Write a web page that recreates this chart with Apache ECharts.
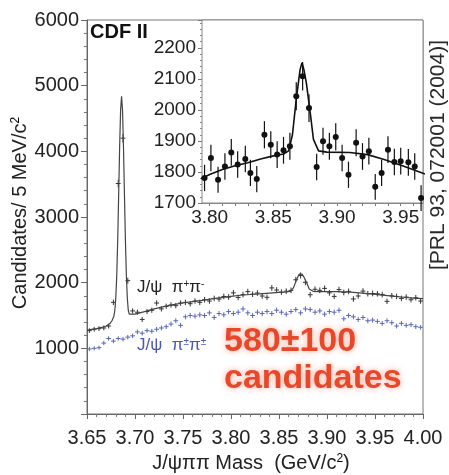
<!DOCTYPE html>
<html>
<head>
<meta charset="utf-8">
<script src="https://cdn.jsdelivr.net/npm/echarts@6/dist/echarts.min.js"></script>
<style>
  html, body { margin: 0; padding: 0; background: #fff; }
  #chart { width: 449px; height: 475px; }
</style>
</head>
<body>
<div id="chart"></div>
<script>
  // bin centres, 5 MeV bins (GeV/c^2)
  const binMass = [
    3.6525, 3.6575, 3.6625, 3.6675, 3.6725, 3.6775, 3.6825, 3.6875, 3.6925, 3.6975,
    3.7025, 3.7075, 3.7125, 3.7175, 3.7225, 3.7275, 3.7325, 3.7375, 3.7425, 3.7475,
    3.7525, 3.7575, 3.7625, 3.7675, 3.7725, 3.7775, 3.7825, 3.7875, 3.7925, 3.7975,
    3.8025, 3.8075, 3.8125, 3.8175, 3.8225, 3.8275, 3.8325, 3.8375, 3.8425, 3.8475,
    3.8525, 3.8575, 3.8625, 3.8675, 3.8725, 3.8775, 3.8825, 3.8875, 3.8925, 3.8975,
    3.9025, 3.9075, 3.9125, 3.9175, 3.9225, 3.9275, 3.9325, 3.9375, 3.9425, 3.9475,
    3.9525, 3.9575, 3.9625, 3.9675, 3.9725, 3.9775, 3.9825, 3.9875, 3.9925, 3.9975
  ];
  // J/psi pi+ pi- candidates
  const oppositeSign = [
    1270, 1290, 1300, 1310, 1340, 1700, 3510, 4200, 2030, 1570,
    1550, 1440, 1560, 1580, 1690, 1600, 1640, 1660, 1650, 1690,
    1700, 1680, 1720, 1700, 1740, 1720, 1760, 1750, 1790, 1781,
    1845, 1775, 1818, 1863, 1824, 1842, 1797, 1777, 1920, 1888,
    1856, 1870, 1883, 2044, 2109, 2006, 1816, 1899, 1883, 1913,
    1845, 1791, 1894, 1850, 1867, 1752, 1797, 1872, 1832, 1835,
    1831, 1818, 1716, 1800, 1790, 1760, 1780, 1740, 1770, 1720
  ];
  // J/psi pi+- pi+- candidates
  const sameSign = [
    990, 1000, 1010, 1080, 1150, 1110, 1150, 1140, 1170, 1190,
    1250, 1230, 1270, 1260, 1290, 1310, 1330, 1370, 1420, 1350,
    1480, 1500, 1490, 1510, 1500, 1540, 1470, 1530, 1510, 1560,
    1530, 1550, 1600, 1540, 1500, 1550, 1530, 1560, 1530, 1580,
    1550, 1520, 1560, 1590, 1540, 1600, 1590, 1550, 1570, 1520,
    1560, 1550, 1580, 1450, 1500, 1480, 1440, 1470, 1420, 1430,
    1410, 1380, 1420, 1390, 1340, 1380, 1350, 1360, 1330, 1320
  ];
  // fit curve
  const fitMass = [
    3.650, 3.655, 3.660, 3.665, 3.670, 3.674, 3.676, 3.677, 3.678, 3.679,
    3.680, 3.681, 3.682, 3.683, 3.684, 3.685, 3.686, 3.687, 3.688, 3.689,
    3.690, 3.691, 3.692, 3.693, 3.694, 3.696, 3.700, 3.710, 3.720, 3.730,
    3.740, 3.750, 3.760, 3.770, 3.780, 3.790, 3.800, 3.810, 3.820, 3.830,
    3.840, 3.850, 3.858, 3.862, 3.865, 3.868, 3.871, 3.8725, 3.874, 3.876,
    3.879, 3.8815, 3.8855, 3.892, 3.910, 3.924, 3.937, 3.953, 3.968, 3.980,
    3.990, 4.000
  ];
  const fitCounts = [
    1275, 1288, 1300, 1318, 1340, 1380, 1420, 1450, 1490, 1580,
    1765, 2114, 2655, 3349, 4071, 4628, 4840, 4628, 4071, 3349,
    2655, 2114, 1765, 1580, 1520, 1505, 1520, 1560, 1600, 1635,
    1665, 1690, 1712, 1730, 1752, 1772, 1792, 1808, 1820, 1830,
    1842, 1852, 1858, 1868, 1920, 2035, 2130, 2152, 2130, 2085,
    1990, 1905, 1868, 1864, 1863, 1856, 1840, 1818, 1795, 1778,
    1766, 1756
  ];
  // inset points
  const insetMass = [
    3.796, 3.801, 3.8066, 3.812, 3.817, 3.822, 3.828, 3.832, 3.837, 3.843,
    3.848, 3.853, 3.858, 3.863, 3.868, 3.873, 3.878, 3.884, 3.889, 3.894,
    3.899, 3.904, 3.909, 3.915, 3.920, 3.925, 3.930, 3.935, 3.940, 3.945,
    3.950, 3.956, 3.961, 3.966
  ];
  const insetCounts = [
    1781, 1845, 1775, 1818, 1863, 1824, 1842, 1797, 1777, 1920,
    1888, 1856, 1870, 1883, 2044, 2109, 2006, 1816, 1899, 1883,
    1913, 1845, 1791, 1894, 1850, 1867, 1752, 1797, 1872, 1832,
    1835, 1831, 1818, 1716
  ];
  const insetXTicks = [3.80, 3.85, 3.90, 3.95];
  const insetXMinor = [3.80, 3.81, 3.82, 3.83, 3.84, 3.85, 3.86, 3.87, 3.88, 3.89, 3.90, 3.91, 3.92, 3.93, 3.94, 3.95, 3.96];

  const FONT = '"Liberation Sans", Arial, sans-serif';
  const chart = echarts.init(document.getElementById('chart'));

  const pairs = (xs, ys) => xs.map((x, i) => [x, ys[i]]);

  // crosses: horizontal = bin width, vertical = stat. error
  function crosses(color) {
    return function (params, api) {
      const x = api.value(0), y = api.value(1);
      const e = Math.sqrt(y);
      const l = api.coord([x - 0.0025, y]), r = api.coord([x + 0.0025, y]);
      const t = api.coord([x, y + e]), b = api.coord([x, y - e]);
      return {
        type: 'group',
        children: [
          { type: 'line', shape: { x1: l[0], y1: l[1], x2: r[0], y2: r[1] }, style: { stroke: color, lineWidth: 1 } },
          { type: 'line', shape: { x1: t[0], y1: t[1], x2: b[0], y2: b[1] }, style: { stroke: color, lineWidth: 1 } }
        ]
      };
    };
  }

  function dots(params, api) {
    const x = api.value(0), y = api.value(1);
    const e = Math.sqrt(y);
    const c = api.coord([x, y]);
    const t = api.coord([x, y + e]), b = api.coord([x, y - e]);
    return {
      type: 'group',
      children: [
        { type: 'line', shape: { x1: t[0], y1: t[1], x2: b[0], y2: b[1] }, style: { stroke: '#111', lineWidth: 1.2 } },
        { type: 'circle', shape: { cx: c[0], cy: c[1], r: 3 }, style: { fill: '#111' } }
      ]
    };
  }

  const sup = { fontSize: 12, verticalAlign: 'top', fontFamily: FONT };

  const option = {
    animation: false,
    backgroundColor: '#fff',
    grid: [
      { left: 87, right: 26, top: 20, bottom: 61, show: true, borderColor: '#777', borderWidth: 1 },
      { left: 202, right: 26, top: 20, bottom: 272, show: true, borderColor: '#888', borderWidth: 1, backgroundColor: '#fff', z: 5 }
    ],
    xAxis: [
      {
        gridIndex: 0, type: 'value', min: 3.65, max: 4.0, interval: 0.05,
        axisLine: { lineStyle: { color: '#666' } },
        axisTick: { length: 5, lineStyle: { color: '#666' } },
        minorTick: { show: true, splitNumber: 5, length: 3, lineStyle: { color: '#777' } },
        splitLine: { show: false },
        axisLabel: { margin: 14, fontSize: 20, color: '#222', fontFamily: FONT, formatter: v => v.toFixed(2) }
      },
      {
        gridIndex: 1, type: 'value', min: 3.794, max: 3.9675,
        axisLine: { lineStyle: { color: '#888' } },
        axisTick: { length: 3, customValues: insetXMinor, lineStyle: { color: '#777' } },
        splitLine: { show: false },
        axisLabel: { margin: 5, fontSize: 19, color: '#222', fontFamily: FONT, customValues: insetXTicks, formatter: v => v.toFixed(2) }
      }
    ],
    yAxis: [
      {
        gridIndex: 0, type: 'value', min: 0, max: 6000, interval: 1000,
        axisLine: { show: true, lineStyle: { color: '#666' } },
        axisTick: { show: true, length: 6, lineStyle: { color: '#666' } },
        minorTick: { show: true, splitNumber: 5, length: 3, lineStyle: { color: '#777' } },
        splitLine: { show: false },
        axisLabel: { margin: 8, fontSize: 20, color: '#222', fontFamily: FONT, formatter: v => (v > 0 ? String(v) : '') }
      },
      {
        gridIndex: 1, type: 'value', min: 1700, max: 2290, interval: 100,
        axisLine: { show: true, lineStyle: { color: '#888' } },
        axisTick: { show: true, length: 4, lineStyle: { color: '#777' } },
        minorTick: { show: true, splitNumber: 5, length: 2, lineStyle: { color: '#888' } },
        splitLine: { show: false },
        axisLabel: { margin: 6, fontSize: 19, color: '#222', fontFamily: FONT, formatter: v => (v % 100 === 0 ? String(v) : '') }
      }
    ],
    series: [
      {
        type: 'custom', xAxisIndex: 0, yAxisIndex: 0, renderItem: crosses('#5a66b8'),
        data: pairs(binMass, sameSign), z: 2
      },
      {
        type: 'custom', xAxisIndex: 0, yAxisIndex: 0, renderItem: crosses('#333'),
        data: pairs(binMass, oppositeSign), z: 3
      },
      {
        type: 'line', xAxisIndex: 0, yAxisIndex: 0, data: pairs(fitMass, fitCounts),
        showSymbol: false, lineStyle: { color: '#444', width: 1.2 }, z: 4
      },
      {
        type: 'line', xAxisIndex: 1, yAxisIndex: 1, data: pairs(fitMass, fitCounts),
        showSymbol: false, lineStyle: { color: '#111', width: 1.6 }, z: 6
      },
      {
        type: 'custom', xAxisIndex: 1, yAxisIndex: 1, renderItem: dots,
        data: pairs(insetMass, insetCounts), z: 7
      }
    ],
    graphic: [
      {
        type: 'text', left: 90, top: 22, z: 10,
        style: { text: 'CDF II', fontSize: 20, fontWeight: 'bold', fontFamily: FONT, fill: '#111' }
      },
      {
        type: 'text', x: 20, y: 213, rotation: Math.PI / 2, z: 10,
        style: {
          text: '{n|Candidates/ 5 MeV/c}{s|2}', align: 'center', verticalAlign: 'middle',
          rich: { n: { fontSize: 20, fontFamily: FONT, fill: '#222' }, s: sup }
        }
      },
      {
        type: 'text', x: 251, y: 463, z: 10,
        style: {
          text: '{n|J/ψππ Mass  (GeV/c}{s|2}{n|)}', align: 'center', verticalAlign: 'middle',
          rich: { n: { fontSize: 20, fontFamily: FONT, fill: '#222' }, s: sup }
        }
      },
      {
        type: 'text', x: 438, y: 155, rotation: Math.PI / 2, z: 10,
        style: { text: '[PRL 93, 072001 (2004)]', align: 'center', verticalAlign: 'middle', fontSize: 21, fontFamily: FONT, fill: '#2a2a2a' }
      },
      {
        type: 'text', left: 137, top: 279, z: 10,
        style: {
          text: '{n|J/ψ  π}{s|+}{n|π}{s|-}',
          rich: { n: { fontSize: 17, fontFamily: FONT, fill: '#222' }, s: { fontSize: 10, verticalAlign: 'top', fontFamily: FONT, fill: '#222' } }
        }
      },
      {
        type: 'text', left: 137, top: 337, z: 10,
        style: {
          text: '{n|J/ψ  π}{s|±}{n|π}{s|±}',
          rich: { n: { fontSize: 17, fontFamily: FONT, fill: '#4a5ab0' }, s: { fontSize: 10, verticalAlign: 'top', fontFamily: FONT, fill: '#4a5ab0' } }
        }
      },
      {
        type: 'text', left: 224, top: 325, z: 10,
        style: {
          text: '580±100', fontSize: 34, fontWeight: 'bold', fontFamily: FONT, fill: '#e8472a',
          textShadowColor: 'rgba(240,110,80,0.6)', textShadowBlur: 6
        }
      },
      {
        type: 'text', left: 224, top: 362, z: 10,
        style: {
          text: 'candidates', fontSize: 34, fontWeight: 'bold', fontFamily: FONT, fill: '#e8472a',
          textShadowColor: 'rgba(240,110,80,0.6)', textShadowBlur: 6
        }
      }
    ]
  };

  chart.setOption(option);
</script>
</body>
</html>
